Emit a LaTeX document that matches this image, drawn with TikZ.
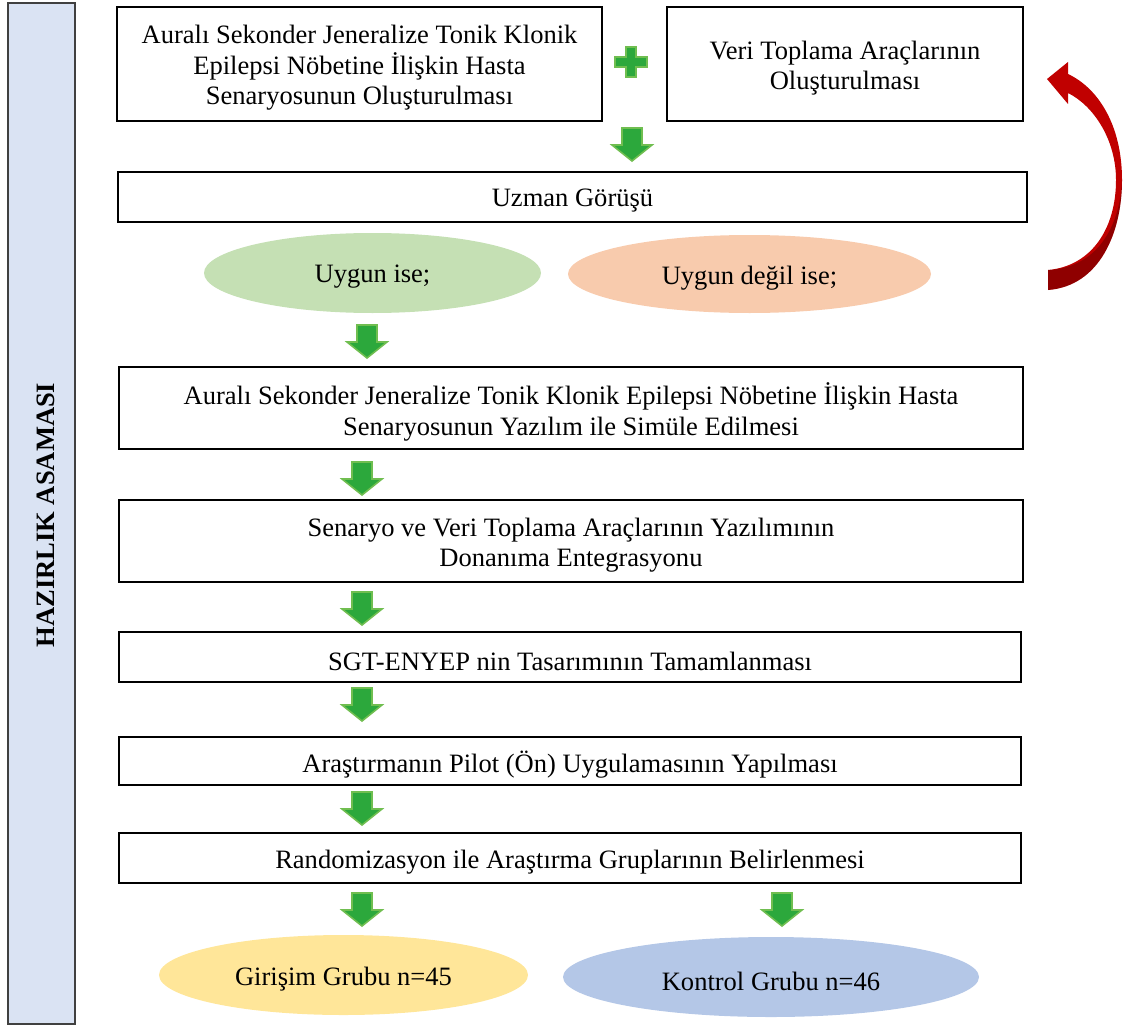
\documentclass[tikz,border=0pt]{standalone}
\usepackage{fontspec}
\setmainfont{Liberation Serif}
\usetikzlibrary{shapes.geometric}
\definecolor{gfill}{RGB}{44,168,60}
\definecolor{gline}{RGB}{112,190,80}
\definecolor{ellgreen}{RGB}{197,224,180}
\definecolor{ellorange}{RGB}{248,203,173}
\definecolor{ellyellow}{RGB}{255,230,153}
\definecolor{ellblue}{RGB}{180,199,231}
\definecolor{barblue}{RGB}{218,227,243}
\definecolor{darkred}{RGB}{192,0,0}
\begin{document}
\begin{tikzpicture}[x=0.75pt,y=-0.75pt,
  every node/.style={font=\fontsize{19.9pt}{22.9pt}\selectfont},
  box/.style={draw=black,line width=1.3pt,inner sep=0pt},
  ell/.style={ellipse,draw=none,inner sep=0pt},
  txt/.style={align=center,inner sep=0pt,yshift=-3pt},
  garrow/.pic={
    \path[fill=gfill,draw=gline,line width=1.2pt,line join=miter]
      (-10,0) -- (-10,17) -- (-20,17) -- (0,33) -- (20,17) -- (10,17) -- (10,0) -- cycle;
  },
  gplus/.pic={
    \path[fill=gfill,draw=gline,line width=1.2pt]
      (-5,-15) -- (5,-15) -- (5,-5) -- (16,-5) -- (16,5) -- (5,5) -- (5,15) -- (-5,15) -- (-5,5) -- (-16,5) -- (-16,-5) -- (-5,-5) -- cycle;
  }]
\useasboundingbox (0,0) rectangle (1130,1027);

% left bar
\node[draw=black!75,line width=1pt,fill=barblue,minimum width={67*0.75pt},minimum height={1021*0.75pt},inner sep=0pt] (bar) at (41.5,513.5) {};
\node[rotate=90,font=\fontsize{19.9pt}{22.9pt}\selectfont\bfseries] (bartext) at (46,515) {HAZIRLIK ASAMASI};

% top boxes
\node[box,minimum width={485*0.75pt},minimum height={114*0.75pt}] (b1) at (359.5,64) {};
\node[txt] (b1t) at (b1.center) {Auralı Sekonder Jeneralize Tonik Klonik\\Epilepsi Nöbetine İlişkin Hasta\\Senaryosunun Oluşturulması};
\node[box,minimum width={356*0.75pt},minimum height={114*0.75pt}] (b2) at (845,64) {};
\node[txt] (b2t) at (b2.center) {Veri Toplama Araçlarının\\Oluşturulması};
\pic at (631,62) {gplus};
\pic at (632,128) {garrow};

\node[box,minimum width={909*0.75pt},minimum height={50*0.75pt}] (uz) at (572.5,197) {};
\node[txt] (uzt) at (uz.center) {Uzman Görüşü};

\node[ell,fill=ellgreen,minimum width={337*0.75pt},minimum height={80*0.75pt}] (ok) at (372.5,273) {};
\node[txt] (okt) at (ok.center) {Uygun ise;};
\node[ell,fill=ellorange,minimum width={363*0.75pt},minimum height={78*0.75pt}] (nok) at (749.5,274) {};
\node[txt] (nokt) at (nok.center) {Uygun değil ise;};

% red curved arrow
\path[fill=darkred]
  (1048,290) .. controls (1100,286) and (1122,232) .. (1122,180)
  .. controls (1122,125) and (1098,88) .. (1068,74)
  -- (1068,62) -- (1047,79) -- (1068,104) -- (1068,93)
  .. controls (1094,106) and (1116,140) .. (1116,180)
  .. controls (1116,228) and (1092,266) .. (1048,270) -- cycle;
\path[fill=black,opacity=0.25]
  (1048,290) .. controls (1100,286) and (1122,232) .. (1122,180)
  .. controls (1120,228) and (1096,268) .. (1048,270) -- cycle;

\pic at (367,325) {garrow};
\node[box,minimum width={904*0.75pt},minimum height={82*0.75pt}] (b3) at (571,408) {};
\node[txt] (b3t) at (b3.center) {Auralı Sekonder Jeneralize Tonik Klonik Epilepsi Nöbetine İlişkin Hasta\\Senaryosunun Yazılım ile Simüle Edilmesi};
\pic at (362,462) {garrow};
\node[box,minimum width={904*0.75pt},minimum height={82*0.75pt}] (b4) at (571,541) {};
\node[txt] (b4t) at (b4.center) {Senaryo ve Veri Toplama Araçlarının Yazılımının\\Donanıma Entegrasyonu};
\pic at (362,592) {garrow};
\node[box,minimum width={902*0.75pt},minimum height={50*0.75pt}] (b5) at (570,657) {};
\node[txt] (b5t) at (b5.center) {SGT-ENYEP nin Tasarımının Tamamlanması};
\pic at (362,688) {garrow};
\node[box,minimum width={902*0.75pt},minimum height={48*0.75pt}] (b6) at (570,761) {};
\node[txt] (b6t) at (b6.center) {Araştırmanın Pilot (Ön) Uygulamasının Yapılması};
\pic at (362,792) {garrow};
\node[box,minimum width={902*0.75pt},minimum height={50*0.75pt}] (b7) at (570,858) {};
\node[txt] (b7t) at (b7.center) {Randomizasyon ile Araştırma Gruplarının Belirlenmesi};
\pic at (362,893) {garrow};
\pic at (782,893) {garrow};

\node[ell,fill=ellyellow,minimum width={369*0.75pt},minimum height={80*0.75pt}] (g1) at (343.5,975) {};
\node[txt] (g1t) at (g1.center) {Girişim Grubu n=45};
\node[ell,fill=ellblue,minimum width={416*0.75pt},minimum height={80*0.75pt}] (g2) at (771,977) {};
\node[txt] (g2t) at (g2.center) {Kontrol Grubu n=46};
\end{tikzpicture}
\end{document}
